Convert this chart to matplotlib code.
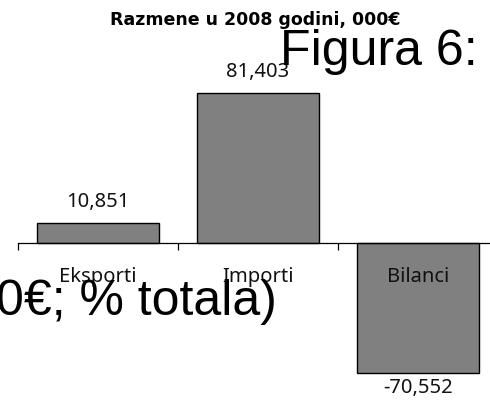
import matplotlib
matplotlib.use("Agg")
import matplotlib.pyplot as plt

categories = ["Eksporti", "Importi", "Bilanci"]
values = [10851, 81403, -70552]
title = "Razmene u 2008 godini, 000€"
overlay_top = "Figura 6:"
overlay_mid = "0€; % totala)"

W, H = 490, 401
fig = plt.figure(figsize=(W / 100, H / 100), dpi=100)

px_per_unit = 150 / 81403
y0 = 158  # zero line, px from bottom
ylo, yhi = -85000, 100000
bottom_px = y0 + ylo * px_per_unit
height_px = (yhi - ylo) * px_per_unit
ax = fig.add_axes([18 / W, bottom_px / H, 480 / W, height_px / H])
ax.set_xlim(-0.5, 2.5)
ax.set_ylim(ylo, yhi)
ax.patch.set_alpha(0)

x = list(range(len(categories)))
ax.bar(x, values, width=0.765, color="#808080", edgecolor="#000000", linewidth=1.0, zorder=2)

for s in ["top", "right", "left"]:
    ax.spines[s].set_visible(False)
ax.spines["bottom"].set_position(("data", 0))
ax.spines["bottom"].set_linewidth(0.9)
ax.set_xticks([i - 0.5 for i in range(len(categories) + 1)])
ax.set_xticklabels([])
ax.tick_params(axis="x", direction="out", length=5.2, width=0.9)
ax.set_yticks([])

lab_font = dict(family="Noto Sans", fontsize=14.5, color="#111111")
for xi, v, c in zip(x, values, categories):
    off = 21 if v >= 0 else -15
    ax.annotate(f"{v:,}", xy=(xi, v), xytext=(0, off * 0.72), textcoords="offset points",
                ha="center", va="center", annotation_clip=False, **lab_font)
    ax.annotate(c, xy=(xi, 0), xytext=(0, -34 * 0.72), textcoords="offset points",
                ha="center", va="center", annotation_clip=False, **lab_font)

fig.text(255 / W, 1 - 20 / H, title, ha="center", va="center", fontsize=12.5,
         fontweight="bold", family="DejaVu Sans")
fig.text(280 / W, 1 - 65 / H, overlay_top, ha="left", va="baseline", fontsize=36,
         family="Liberation Sans", color="black")
fig.text(277 / W, 1 - 315 / H, overlay_mid, ha="right", va="baseline", fontsize=36,
         family="Liberation Sans", color="black")

fig.savefig("out.png", dpi=100)
